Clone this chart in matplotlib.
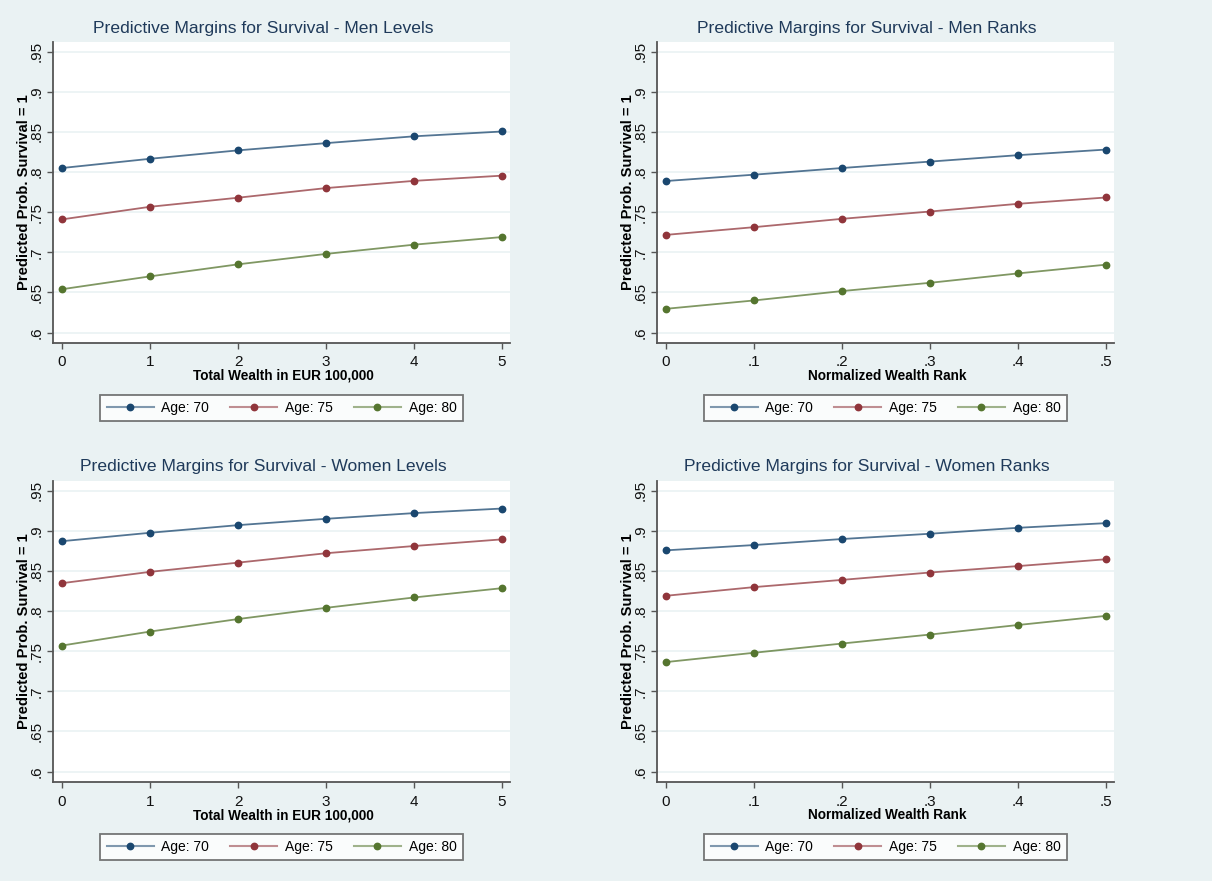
import matplotlib
matplotlib.use("Agg")
import matplotlib.pyplot as plt
from matplotlib.colors import to_rgba
from matplotlib.ticker import FixedLocator

plt.rcParams['font.family'] = ['Liberation Sans', 'DejaVu Sans']

W, H = 1212, 881
BG = '#eaf2f3'

ages = ['Age: 70', 'Age: 75', 'Age: 80']
colors = ['#1a476f', '#90353b', '#55752f']

wealth_levels = [0, 1, 2, 3, 4, 5]
wealth_ranks = [0, 0.1, 0.2, 0.3, 0.4, 0.5]
level_labels = ['0', '1', '2', '3', '4', '5']
rank_labels = ['0', '.1', '.2', '.3', '.4', '.5']

yticks = [0.6, 0.65, 0.7, 0.75, 0.8, 0.85, 0.9, 0.95]
ytick_labels = ['.6', '.65', '.7', '.75', '.8', '.85', '.9', '.95']

men_levels = [
    [0.805, 0.8165, 0.827, 0.836, 0.8445, 0.8505],
    [0.741, 0.7567, 0.768, 0.780, 0.789, 0.7955],
    [0.654, 0.670, 0.685, 0.698, 0.7095, 0.719],
]
men_ranks = [
    [0.7888, 0.7967, 0.805, 0.813, 0.821, 0.828],
    [0.7217, 0.7313, 0.7417, 0.7508, 0.7604, 0.7683],
    [0.6296, 0.640, 0.6517, 0.662, 0.6737, 0.6846],
]
women_levels = [
    [0.887, 0.8975, 0.907, 0.9149, 0.922, 0.9277],
    [0.8347, 0.8488, 0.8603, 0.872, 0.881, 0.8893],
    [0.757, 0.7744, 0.790, 0.804, 0.8169, 0.8285],
]
women_ranks = [
    [0.8756, 0.8822, 0.8897, 0.8963, 0.9037, 0.9095],
    [0.819, 0.8298, 0.8388, 0.848, 0.856, 0.8645],
    [0.7364, 0.748, 0.7595, 0.7707, 0.7826, 0.794],
]

panels = [
    ('Predictive Margins for Survival - Men Levels', men_levels, wealth_levels,
     level_labels, 'Total Wealth in EUR 100,000', 0, 0),
    ('Predictive Margins for Survival - Men Ranks', men_ranks, wealth_ranks,
     rank_labels, 'Normalized Wealth Rank', 604, 0),
    ('Predictive Margins for Survival - Women Levels', women_levels, wealth_levels,
     level_labels, 'Total Wealth in EUR 100,000', 0, 439),
    ('Predictive Margins for Survival - Women Ranks', women_ranks, wealth_ranks,
     rank_labels, 'Normalized Wealth Rank', 604, 439),
]

fig = plt.figure(figsize=(W / 100, H / 100), dpi=100, facecolor=BG)


def fx(px):
    return px / W


def fy(py):
    return 1 - py / H


for title, series, xs, xlabels, xlabel, dx, dy in panels:
    left, right, top, bottom = 53 + dx, 510 + dx, 42 + dy, 343 + dy
    ax = fig.add_axes([fx(left), fy(bottom), fx(right - left), (bottom - top) / H])
    ax.set_facecolor('white')

    for vals, lab, c in zip(series, ages, colors):
        ax.plot(xs, vals, color=to_rgba(c, 0.75), lw=1.3, marker='o', ms=4.6,
                mfc=c, mec=c, label=lab, zorder=3)

    span = xs[-1] - xs[0]
    ax.set_xlim(xs[0] - 0.102 * span / 5, xs[-1] + 0.09 * span / 5)
    ax.set_ylim(0.587, 0.962)

    ax.xaxis.set_major_locator(FixedLocator(xs))
    ax.set_xticklabels(xlabels, fontsize=11, color='#111111')
    ax.yaxis.set_major_locator(FixedLocator(yticks))
    ax.set_yticklabels(ytick_labels, fontsize=11, color='#111111',
                       rotation=90, va='center')
    ax.tick_params(axis='both', length=4, width=1, color='#555555')
    ax.tick_params(axis='x', pad=5)
    ax.tick_params(axis='y', pad=3)

    ax.grid(axis='y', color=BG, lw=1.2, zorder=0)
    ax.set_axisbelow(True)
    for s in ['top', 'right']:
        ax.spines[s].set_visible(False)
    for s in ['left', 'bottom']:
        ax.spines[s].set_color('#555555')
        ax.spines[s].set_linewidth(1.3)

    ax.set_ylabel('Predicted Prob. Survival = 1', fontsize=10.6, fontweight='bold',
                  labelpad=-1)
    fig.text(fx(283 + dx), fy(376 + dy), xlabel, fontsize=9.8, fontweight='bold',
             ha='center', va='center')
    fig.text(fx(263 + dx), fy(28 + dy), title, fontsize=12.6, color='#1f3a5a',
             ha='center', va='center')

    # legend keys: faded line, solid marker
    handles = [plt.Line2D([], [], color=to_rgba(c, 0.55), lw=1.5, marker='o',
                          ms=4.6, mfc=c, mec=c) for c in colors]
    leg = ax.legend(handles, ages, loc='center', ncol=3,
                    bbox_to_anchor=(fx((left + right) / 2), fy(408 + dy)),
                    bbox_transform=fig.transFigure, fontsize=10, frameon=True,
                    fancybox=False, handlelength=3.4, handletextpad=0.55,
                    columnspacing=1.5, borderpad=0.45, borderaxespad=0)
    leg.get_frame().set_edgecolor('#555555')
    leg.get_frame().set_linewidth(1.3)

fig.savefig('out.png', dpi=100, facecolor=BG)
